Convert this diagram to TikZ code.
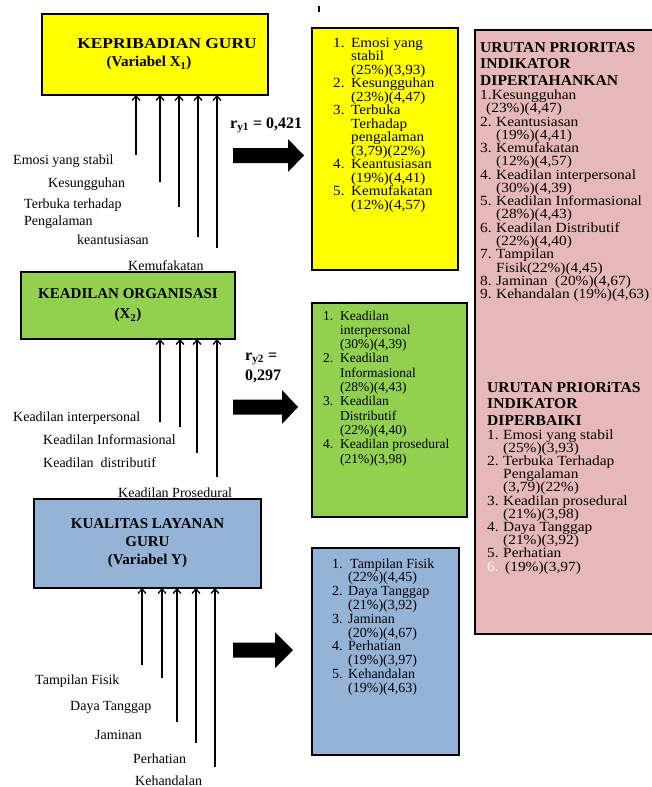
\documentclass[tikz,border=0pt]{standalone}
\usepackage{fontspec}
\setmainfont{Liberation Serif}
\newfontfamily\pinkfont[FakeStretch=1.1]{Liberation Serif}
\newfontfamily\pinkhdfont[FakeStretch=1.04]{Liberation Serif}
\newfontfamily\ylfont[FakeStretch=1.08]{Liberation Serif}
\newfontfamily\widefont[FakeStretch=1.16]{Liberation Serif}
\usetikzlibrary{arrows.meta}
\definecolor{cyel}{HTML}{FFFF00}
\definecolor{cgrn}{HTML}{92D050}
\definecolor{cblu}{HTML}{95B3D7}
\definecolor{cpnk}{HTML}{E6B9B8}
\newlength\numw
\newcommand\Ln[2]{\hbox{\hbox to \numw{#1\hfil}#2}}
\newcommand\Lst[2]{\vtop{\baselineskip=#1\lineskiplimit=-\maxdimen\lineskip=0pt #2}}
\newcommand\Hd[1]{\hbox{\pinkhdfont\bfseries\fontsize{15}{16.5}\selectfont #1}}
\tikzset{
  varbox/.style={draw=black, line width=1.5pt, rectangle, inner sep=0pt, outer sep=0pt,
    align=center, font=\fontsize{15}{18}\selectfont\bfseries},
  listbox/.style={draw=black, line width=1.5pt, rectangle, inner sep=0pt, outer sep=0pt},
  lbl/.style={anchor=base west, inner sep=0pt, font=\fontsize{14}{16}\selectfont},
  lsttext/.style={anchor=base west, inner sep=0pt, font=\fontsize{14}{14}\selectfont},
  pinktext/.style={anchor=base west, inner sep=0pt, font=\pinkfont\fontsize{14}{13.3}\selectfont},
  rlbl/.style={anchor=base west, inner sep=0pt, font=\fontsize{16}{20}\selectfont\bfseries},
  arr/.style={line width=1.3pt, -{Straight Barb[length=4.5pt,width=8pt]}},
  blockarrow/.style={fill=black}
}
\begin{document}
\begin{tikzpicture}[x=1pt,y=-1pt]
\useasboundingbox (0,0) rectangle (651,787);

% small mark at top
\draw[line width=2pt] (319,6) -- (319,12);

% variable boxes
\node[varbox, fill=cyel, minimum width=226, minimum height=81] (yel) at (155,54.5)
  {\hspace*{24pt}{\widefont KEPRIBADIAN GURU}\\(Variabel X\textsubscript{1})\hspace*{12pt}};
\node[varbox, fill=cgrn, minimum width=214, minimum height=67,
  font=\fontsize{15}{20}\selectfont\bfseries] (grn) at (128,305.5)
  {KEADILAN ORGANISASI\\(X\textsubscript{2})};
\node[varbox, fill=cblu, minimum width=227, minimum height=89] (blu) at (147.5,543.5)
  {KUALITAS LAYANAN\\GURU\\(Variabel Y)};

% list boxes
\node[listbox, fill=cyel, minimum width=146, minimum height=242] (ylist) at (385,149) {};
\node[listbox, fill=cgrn, minimum width=155, minimum height=214] (glist) at (389.5,410) {};
\node[listbox, fill=cblu, minimum width=147, minimum height=207] (blist) at (385.5,651.5) {};
\node[listbox, fill=cpnk, minimum width=180, minimum height=604] (pink) at (565,332) {};

% indicator arrows, box 1
\foreach \x/\y [count=\i] in {136/155,160/182,179/207,198/237,217/248}{
  \coordinate (p\i) at (\x,\y);
  \draw[arr] (p\i) -- (p\i |- yel.south);
}
% box 2
\foreach \x/\y [count=\i] in {160/422,180/427,197/453,217/477}{
  \coordinate (q\i) at (\x,\y);
  \draw[arr] (q\i) -- (q\i |- grn.south);
}
% box 3
\foreach \x/\y [count=\i] in {142/665,162/678,177/722,196/743,215/767}{
  \coordinate (s\i) at (\x,\y);
  \draw[arr] (s\i) -- (s\i |- blu.south);
}

% indicator labels, box 1
\node[lbl] (l11) at (13,164) {Emosi yang stabil};
\node[lbl] (l12) at (48,187) {Kesungguhan};
\node[lbl] (l13) at (24,208) {\Lst{17pt}{\hbox{Terbuka terhadap}\hbox{Pengalaman}}};
\node[lbl] (l14) at (77,244) {keantusiasan};
\node[lbl] (l15) at (128,270) {Kemufakatan};
% box 2
\node[lbl] (l21) at (13,421) {Keadilan interpersonal};
\node[lbl] (l22) at (43,444) {Keadilan Informasional};
\node[lbl] (l23) at (43,467) {Keadilan\ \ distributif};
\node[lbl] (l24) at (118,497) {Keadilan Prosedural};
% box 3
\node[lbl] (l31) at (35,684) {Tampilan Fisik};
\node[lbl] (l32) at (70,710) {Daya Tanggap};
\node[lbl] (l33) at (95,739) {Jaminan};
\node[lbl] (l34) at (133,763) {Perhatian};
\node[lbl] (l35) at (135,785) {Kehandalan};

% correlation labels
\node[rlbl] (r1) at (230,128) {r\textsubscript{y1} = 0,421};
\node[rlbl] (r2) at (245,360) {\Lst{20pt}{\hbox{r\textsubscript{y2} =}\hbox{0,297}}};

% block arrows
\fill[blockarrow] (233,148) -- (288,148) -- (288,139) -- (304,155.5) -- (288,172) -- (288,163) -- (233,163) -- cycle;
\fill[blockarrow] (233,399.5) -- (282,399.5) -- (282,390) -- (298,407) -- (282,424) -- (282,414.5) -- (233,414.5) -- cycle;
\fill[blockarrow] (233,642.5) -- (275,642.5) -- (275,632) -- (293,650) -- (275,668) -- (275,657.5) -- (233,657.5) -- cycle;

% yellow list
\node[lsttext, font=\ylfont\fontsize{14}{14}\selectfont] (yt) at (333,47) {\setlength\numw{18pt}\Lst{13.5pt}{%
  \Ln{1.}{Emosi yang}\Ln{}{stabil}\Ln{}{(25\%)(3,93)}%
  \Ln{2.}{Kesungguhan}\Ln{}{(23\%)(4,47)}%
  \Ln{3.}{Terbuka}\Ln{}{Terhadap}\Ln{}{pengalaman}\Ln{}{(3,79)(22\%)}%
  \Ln{4.}{Keantusiasan}\Ln{}{(19\%)(4,41)}%
  \Ln{5.}{Kemufakatan}\Ln{}{(12\%)(4,57)}}};

% green list
\node[lsttext, font=\fontsize{13.5}{14}\selectfont] (gt) at (323,320) {\setlength\numw{17pt}\Lst{14.3pt}{%
  \Ln{1.}{Keadilan}\Ln{}{interpersonal}\Ln{}{(30\%)(4,39)}%
  \Ln{2.}{Keadilan}\Ln{}{Informasional}\Ln{}{(28\%)(4,43)}%
  \Ln{3.}{Keadilan}\Ln{}{Distributif}\Ln{}{(22\%)(4,40)}%
  \Ln{4.}{Keadilan prosedural}\Ln{}{(21\%)(3,98)}}};

% blue list
\node[lsttext] (bt) at (332,568) {\setlength\numw{16pt}\Lst{13.8pt}{%
  \Ln{1.}{\hspace*{2pt}Tampilan Fisik}\Ln{}{(22\%)(4,45)}%
  \Ln{2.}{Daya Tanggap}\Ln{}{(21\%)(3,92)}%
  \Ln{3.}{Jaminan}\Ln{}{(20\%)(4,67)}%
  \Ln{4.}{Perhatian}\Ln{}{(19\%)(3,97)}%
  \Ln{5.}{Kehandalan}\Ln{}{(19\%)(4,63)}}};

% pink box, first section
\node[pinktext] (pa) at (480,52) {\setlength\numw{16pt}\vtop{\lineskiplimit=-\maxdimen\lineskip=0pt
  \baselineskip=16.5pt
  \Hd{URUTAN PRIORITAS}\Hd{INDIKATOR}\Hd{DIPERTAHANKAN}%
  \baselineskip=14.5pt
  \hbox{1.Kesungguhan}%
  \baselineskip=13.27pt
  \hbox{\hspace*{6pt}(23\%)(4,47)}%
  \Ln{2.}{Keantusiasan}\Ln{}{(19\%)(4,41)}%
  \Ln{3.}{Kemufakatan}\Ln{}{(12\%)(4,57)}%
  \Ln{4.}{Keadilan interpersonal}\Ln{}{(30\%)(4,39)}%
  \Ln{5.}{Keadilan Informasional}\Ln{}{(28\%)(4,43)}%
  \Ln{6.}{Keadilan Distributif}\Ln{}{(22\%)(4,40)}%
  \Ln{7.}{Tampilan}\Ln{}{Fisik(22\%)(4,45)}%
  \Ln{8.}{Jaminan\ \ (20\%)(4,67)}%
  \Ln{9.}{Kehandalan (19\%)(4,63)}}};

% pink box, second section
\node[pinktext] (pb) at (487,392) {\setlength\numw{16pt}\vtop{\lineskiplimit=-\maxdimen\lineskip=0pt
  \baselineskip=16.5pt
  \Hd{URUTAN PRIORiTAS}\Hd{INDIKATOR}\Hd{DIPERBAIKI}%
  \baselineskip=14pt
  \Ln{1.}{Emosi yang stabil}%
  \baselineskip=13.2pt
  \Ln{}{(25\%)(3,93)}%
  \Ln{2.}{Terbuka Terhadap}\Ln{}{Pengalaman}\Ln{}{(3,79)(22\%)}%
  \Ln{3.}{Keadilan prosedural}\Ln{}{(21\%)(3,98)}%
  \Ln{4.}{Daya Tanggap}\Ln{}{(21\%)(3,92)}%
  \Ln{5.}{Perhatian}%
  \Ln{\textcolor{white}{6.}}{\hspace*{2pt}(19\%)(3,97)}}};
\end{tikzpicture}
\end{document}
